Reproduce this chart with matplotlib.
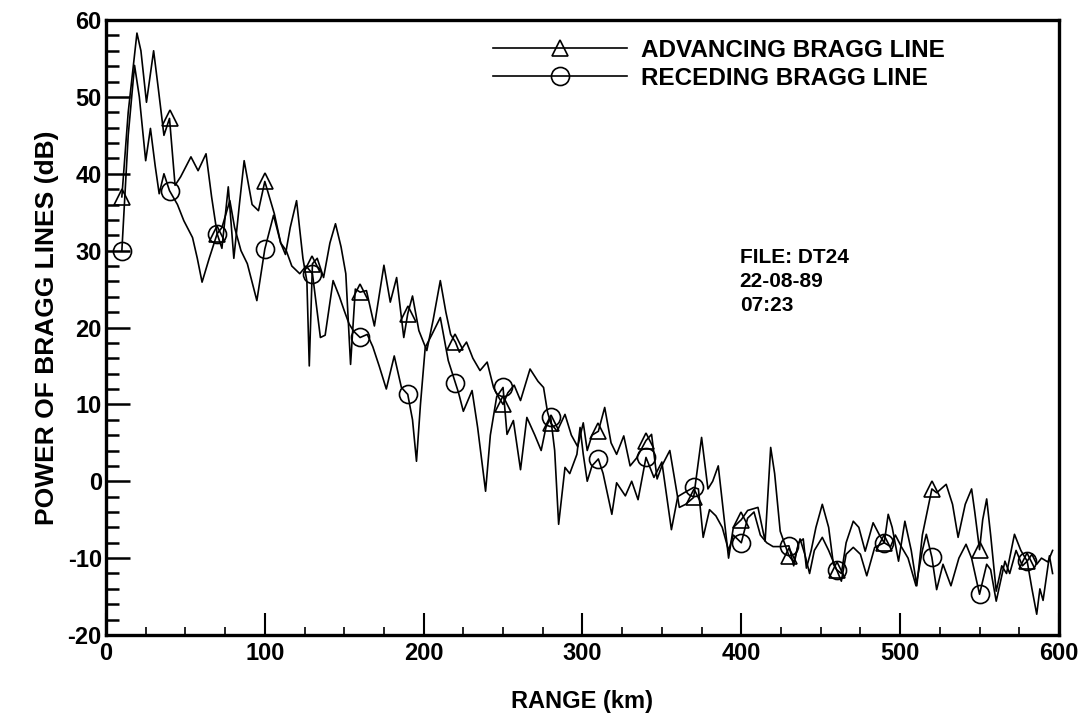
import numpy as np
import matplotlib
matplotlib.use('Agg')
from matplotlib import pyplot as plt
from matplotlib.ticker import MultipleLocator

plt.rcParams['font.family'] = ['Liberation Sans', 'DejaVu Sans']
plt.rcParams['font.weight'] = 'bold'
plt.rcParams['axes.unicode_minus'] = False

# advancing Bragg line: range (km) / power (dB)
adv_km = [10, 14, 19.5, 22, 25.5, 30, 33, 36.5, 40, 43.5, 47, 53.5, 58, 63, 66.5,
          70, 73, 77, 80.5, 84, 87, 92, 96, 100, 106, 110, 113, 116, 120, 124,
          126.5, 128, 130, 133, 137, 141, 144.5, 148, 151, 154, 157, 160, 164,
          169, 175, 179, 183, 187.5, 190, 193, 197, 202, 206, 210.5, 214, 217,
          220, 222.5, 227, 231, 235.5, 240, 244, 247, 250, 253, 257, 261, 267,
          272, 275.5, 278, 280, 284, 289, 293, 297, 300.5, 303, 306, 310, 314,
          318, 321.5, 326, 330, 334, 340, 343.5, 347, 350, 355, 361, 365, 370,
          375, 379, 382, 385.5, 392, 395, 400, 404, 410.5, 415, 418.5, 421,
          424.5, 430, 433, 437, 440, 443, 446, 451, 455, 460, 463, 466, 470.5,
          474, 478, 483, 487, 490, 492.5, 495, 499, 503, 507, 510.5, 514, 520,
          523, 529, 533, 536.5, 541, 545, 547, 550, 552, 554.5, 557, 560.5, 564,
          567, 572, 576, 580, 583, 586, 589, 593, 596]
adv_db = [37, 48, 58.3, 56, 49.3, 56, 51, 45, 47.2, 38.5, 39.6, 42.2, 40.4, 42.6, 37,
          32.2, 30.3, 38.3, 29, 36, 41.7, 36, 35.2, 39, 34.8, 31, 29.5, 33, 36.5, 29,
          26, 15, 28.3, 29, 26.5, 31, 33.5, 30.5, 27, 15.2, 25, 24.6, 24.8,
          20.2, 28.1, 23.3, 26.5, 18.7, 21.8, 24.1, 19.6, 17, 21, 26.1, 22, 19.1,
          18.1, 16.8, 18.1, 16, 14.4, 15.5, 12.2, 11, 10, 11.5, 12.5, 10.5, 14.6,
          13, 12.2, 9, 7.6, 6.5, 8.7, 6, 4.5, 7.6, 4, 6, 6.5, 9.6,
          5, 3.5, 5.9, 2, 3, 5.3, 6.1, 0.3, 2, 4, -3.4, -3, -2.1,
          5.7, -1, 0, 2, -10, -6, -5, -3.8, -3.4, -7.8, 4.4, 1,
          -6.5, -9.7, -10.5, -7.5, -9.5, -12, -9, -7.3, -9, -11.5, -12, -8, -5.2,
          -6, -9.1, -5.4, -7, -8, -4.3, -6, -10.4, -5.2, -9, -13.6, -7, -1,
          -1.5, -0.4, -3, -7.3, -3, -1, -4, -8.9, -5, -2.3, -7, -14.3, -11,
          -12, -6.9, -9, -10.4, -9.5, -10.8, -10, -10.5, -9]

# receding Bragg line: range (km) / power (dB)
rec_km = [10, 14, 18, 21, 25, 28, 31, 33.5, 36.5, 40, 45, 49, 54.5, 57.5, 60.5, 65,
          70, 73, 78, 81, 85, 89, 95, 100, 105.5, 110, 113.5, 117, 122, 126, 130,
          133, 135, 138, 143, 147, 150, 153, 156, 160, 164.5, 168, 172, 176.5,
          181.5, 186, 190, 193, 195.5, 198, 201, 205, 210.5, 215.5, 220, 222,
          225, 230.5, 234, 239, 242, 246, 250, 252.5, 256.5, 261, 265, 270, 274,
          277, 280, 282.5, 285, 289, 292, 296.5, 298.5, 300.5, 303, 306, 310,
          313, 318.5, 321.5, 327, 331, 335, 340, 345, 350, 356, 360, 364, 370,
          373, 376, 380, 384, 388, 392, 395, 400, 404, 408, 412, 416, 420, 425,
          430, 433, 436, 439, 441, 444, 447, 451, 455, 458, 460, 463, 466, 470.5,
          475, 479, 484, 490, 494, 497, 501, 505, 510, 514, 516.5, 520, 523, 527,
          532, 537, 541.5, 545, 550, 554.5, 557, 560.5, 566, 569, 573, 577, 580,
          583, 586, 588, 590, 594, 596]
rec_db = [30, 45, 54.1, 50, 41.7, 45.9, 41, 37.4, 40, 37.8, 36, 33.9, 31.7, 29, 25.9, 29,
          32.2, 33, 36.5, 33, 30, 28.3, 23.5, 30.2, 34.6, 31, 30, 28, 27, 28, 27,
          22, 18.7, 19, 26.1, 24, 22.2, 20.5, 19.5, 18.7, 19.1, 17.5, 15, 12,
          16.3, 12.2, 11.3, 8, 2.6, 10, 17.4, 19, 21.3, 15.7, 12.8, 11.5,
          9.1, 11.8, 7, -1.3, 6, 11, 12.2, 6.1, 7.9, 1.5, 8.3, 6, 4,
          7, 8.3, 4, -5.6, 1.8, 1, 3.5, 7, 3.5, 0, 2, 2.9,
          1, -4.3, -0.2, -1.9, 0, -2.4, 3.1, 0.5, 2.5, -6.3, -2, -1.5, -0.8,
          -1, -7.3, -3.7, -4.5, -6, -9, -7, -8, -4.8, -4, -7, -8, -8.5, -8.5,
          -8.4, -11, -8, -7.5, -11.3, -9, -6, -3, -6, -10.8, -11.5, -13, -9.5, -8.6,
          -9.5, -12.3, -8.6, -8, -8.5, -7, -8.6, -10, -13.6, -9, -6.9, -9.9, -14.1, -10.8,
          -13.6, -10, -8.2, -10, -14.7, -10.8, -11.5, -15.6, -10.4, -12, -9, -11, -10.4,
          -14, -17.3, -14, -15.5, -9.7, -12]

# symbols every 30 km
mark_km = list(range(10, 600, 30))

adv_marks = [i for i, k in enumerate(adv_km) if k in mark_km]
rec_marks = [i for i, k in enumerate(rec_km) if k in mark_km]

fig = plt.figure(figsize=(10.88, 7.15), dpi=100)
ax = fig.add_axes([0.0974, 0.1119, 0.8759, 0.8601])

ax.plot(adv_km, adv_db, color='black', lw=1.2, marker='^', markersize=12,
        markerfacecolor='none', markeredgewidth=1.2, markevery=adv_marks,
        solid_joinstyle='round', label='ADVANCING BRAGG LINE')
ax.plot(rec_km, rec_db, color='black', lw=1.2, marker='o', markersize=13,
        markerfacecolor='none', markeredgewidth=1.2, markevery=rec_marks,
        solid_joinstyle='round', label='RECEDING BRAGG LINE')

ax.set_xlim(0, 600)
ax.set_ylim(-20, 60)
ax.xaxis.set_major_locator(MultipleLocator(100))
ax.xaxis.set_minor_locator(MultipleLocator(25))
ax.yaxis.set_major_locator(MultipleLocator(10))
ax.yaxis.set_minor_locator(MultipleLocator(2))
ax.tick_params(axis='x', which='major', direction='in', length=16, width=1.5,
               labelsize=17, pad=5)
ax.tick_params(axis='x', which='minor', direction='in', length=6, width=1.2)
ax.tick_params(axis='y', which='major', direction='in', length=17, width=1.8,
               labelsize=17, pad=3)
ax.tick_params(axis='y', which='minor', direction='in', length=9, width=1.8)
for side in ax.spines.values():
    side.set_linewidth(2.4)

ax.set_xlabel('RANGE (km)', fontsize=17, fontweight='bold', labelpad=18)
ax.set_ylabel('POWER OF BRAGG LINES (dB)', fontsize=19, fontweight='bold', labelpad=6)

ax.legend(loc='upper left', bbox_to_anchor=(0.383, 1.005), frameon=False,
          handlelength=5.5, numpoints=1, labelspacing=0.2,
          handletextpad=0.6, prop={'weight': 'bold', 'size': 17.5})

ax.text(399, 30.4, 'FILE: DT24\n22-08-89\n07:23', fontsize=15, fontweight='bold',
        va='top', ha='left', linespacing=1.35)

fig.savefig('out.png', dpi=100)
